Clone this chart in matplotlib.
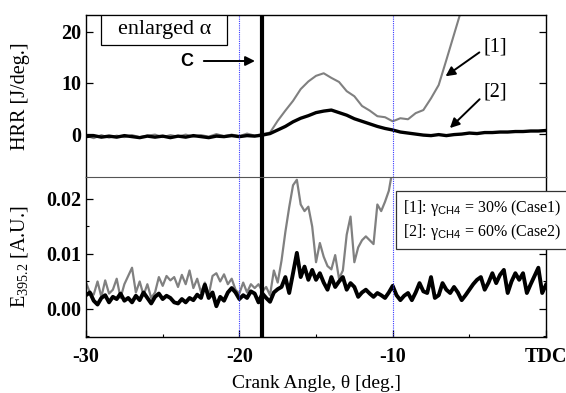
import numpy as np
import matplotlib
matplotlib.use('Agg')
import matplotlib.pyplot as plt
from matplotlib.patches import Rectangle
from matplotlib.ticker import MultipleLocator

plt.rcParams['font.family'] = ['Liberation Serif', 'DejaVu Serif']
plt.rcParams['mathtext.fontset'] = 'custom'
plt.rcParams['mathtext.rm'] = 'Liberation Serif'
plt.rcParams['mathtext.it'] = 'Liberation Serif:italic'
plt.rcParams['mathtext.sf'] = 'Liberation Sans'

# HRR, 0.5 deg steps from -30
hrr_case1 = [-0.3, -0.8, -0.2, -0.7, -0.3, -0.6, -0.2, -0.6, -0.3, -0.1, -0.6, -0.2,
             -0.5, -0.1, -0.5, -0.2, -0.5, 0.0, -0.4, -0.1, -0.4, 0.1, -0.3, 0.0,
             0.3, 2.6, 4.6, 6.5, 8.8, 10.3, 11.4, 11.9, 11.0, 10.2, 8.4, 7.4,
             5.5, 4.6, 3.5, 3.3, 2.5, 3.1, 2.9, 4.1, 4.7, 7.0, 9.6, 14.5, 19.5, 24.5, 30.0]
hrr_case2 = [-0.5, -0.3, -0.6, -0.4, -0.6, -0.3, -0.5, -0.7, -0.4, -0.6, -0.4, -0.7,
             -0.4, -0.6, -0.3, -0.5, -0.7, -0.4, -0.5, -0.3, -0.5, -0.3, -0.4, -0.2,
             0.1, 0.8, 1.5, 2.4, 3.1, 3.6, 4.2, 4.5, 4.7, 4.2, 3.7, 3.0, 2.5, 2.0,
             1.5, 1.1, 0.8, 0.4, 0.2, 0.0, -0.2, -0.3, -0.1, -0.3, -0.1, 0.0, 0.2,
             0.1, 0.3, 0.3, 0.4, 0.4, 0.5, 0.5, 0.6, 0.6, 0.7]

# E_395.2, 0.25 deg steps from -30
e_case1 = [0.0048, 0.0030, 0.0026, 0.0050, 0.0022, 0.0052, 0.0028, 0.0035, 0.0055, 0.0020,
           0.0045, 0.0060, 0.0075, 0.0030, 0.0050, 0.0025, 0.0045, 0.0020, 0.0030, 0.0058,
           0.0042, 0.0060, 0.0052, 0.0058, 0.0040, 0.0062, 0.0045, 0.0070, 0.0038, 0.0055,
           0.0030, 0.0048, 0.0025, 0.0060, 0.0065, 0.0050, 0.0063, 0.0045, 0.0055, 0.0035,
           0.0028, 0.0048, 0.0030, 0.0045, 0.0038, 0.0045, 0.0032,
           0.0040, 0.0025, 0.0070, 0.0048, 0.0088, 0.0140, 0.0185, 0.0225, 0.0235, 0.0190,
           0.0178, 0.0186, 0.0150, 0.0085, 0.0120, 0.0095, 0.0078, 0.0072, 0.0098, 0.0055,
           0.0070, 0.0135, 0.0168, 0.0085, 0.0112, 0.0125, 0.0132, 0.0125, 0.0118, 0.0190,
           0.0178, 0.0195, 0.0215, 0.0255, 0.0300]
e_case2 = [0.0025, 0.0030, 0.0015, 0.0008, 0.0020, 0.0025, 0.0012, 0.0022, 0.0018, 0.0028,
           0.0015, 0.0020, 0.0012, 0.0024, 0.0016, 0.0030, 0.0020, 0.0010, 0.0022, 0.0028,
           0.0018, 0.0024, 0.0020, 0.0012, 0.0010, 0.0018, 0.0012, 0.0020, 0.0016, 0.0026,
           0.0020, 0.0044, 0.0020, 0.0030, 0.0005, 0.0022, 0.0015, 0.0030, 0.0038, 0.0030,
           0.0018, 0.0025, 0.0020, 0.0032, 0.0028, 0.0012, 0.0028, 0.0020, 0.0013, 0.0030,
           0.0036, 0.0040, 0.0058, 0.0029, 0.0065, 0.0102, 0.0058, 0.0077, 0.0053, 0.0071,
           0.0053, 0.0065, 0.0048, 0.0035, 0.0058, 0.0040, 0.0050, 0.0058, 0.0035, 0.0047,
           0.0040, 0.0022, 0.0030, 0.0035, 0.0028, 0.0022, 0.0029, 0.0025, 0.0020, 0.0030,
           0.0042, 0.0025, 0.0016, 0.0024, 0.0029, 0.0016, 0.0030, 0.0047, 0.0032, 0.0029,
           0.0058, 0.0020, 0.0025, 0.0047, 0.0035, 0.0029, 0.0040, 0.0030, 0.0016, 0.0025,
           0.0035, 0.0045, 0.0053, 0.0058, 0.0035, 0.0048, 0.0065, 0.0047, 0.0062, 0.0071,
           0.0029, 0.0050, 0.0065, 0.0053, 0.0065, 0.0029, 0.0045, 0.0060, 0.0075, 0.0029,
           0.0044]

x_ticks = [-30, -20, -10, 0]
x_ticklabels = ['-30', '-20', '-10', 'TDC']
theta_c = -18.5
blue_marks = [-20, -10]


def angles(vals, step):
    return -30 + step * np.arange(len(vals))


fig = plt.figure(figsize=(5.66, 3.93), dpi=100)
ax1 = fig.add_axes([0.152, 0.5496, 0.8127, 0.4122])
ax2 = fig.add_axes([0.152, 0.1425, 0.8127, 0.4071])

ax1.plot(angles(hrr_case1, 0.5), hrr_case1, color='#808080', lw=1.5)
ax1.plot(angles(hrr_case2, 0.5), hrr_case2, color='k', lw=2.4)
ax2.plot(angles(e_case1, 0.25), e_case1, color='#808080', lw=1.6)
ax2.plot(angles(e_case2, 0.25), e_case2, color='k', lw=2.8)

for ax in (ax1, ax2):
    for xb in blue_marks:
        ax.axvline(xb, color='#3a3aff', lw=0.8, ls=(0, (1, 1)))
    ax.axvline(theta_c, color='k', lw=3.0)
    ax.set_xlim(-30, 0)
    ax.tick_params(which='both', direction='in', right=True, labelsize=14.5)
    ax.tick_params(which='major', length=5, width=0.9)
    ax.tick_params(which='minor', length=2.5, width=0.8)
    for sp in ax.spines.values():
        sp.set_linewidth(1.0)

ax1.set_ylim(-8.4, 23.3)
ax1.set_yticks([0, 10, 20])
ax1.set_yticklabels(['0', '10', '20'], fontweight='bold')
ax1.set_xticks([])
ax1.spines['bottom'].set_visible(False)
ax1.set_ylabel('HRR [J/deg.]', fontsize=14.5)
ax1.yaxis.set_label_coords(-0.121, 0.5)

ax2.set_ylim(-0.0051, 0.024)
ax2.set_yticks([0.0, 0.01, 0.02])
ax2.set_yticklabels(['0.00', '0.01', '0.02'], fontweight='bold')
ax2.yaxis.set_minor_locator(MultipleLocator(0.005))
ax2.set_xticks(x_ticks)
ax2.set_xticklabels(x_ticklabels, fontweight='bold')
ax2.xaxis.set_minor_locator(MultipleLocator(5))
ax2.spines['top'].set_color('#555555')
ax2.spines['top'].set_linewidth(0.8)
ax2.set_ylabel('E$_{\\mathrm{395.2}}$ [A.U.]', fontsize=14.5)
ax2.yaxis.set_label_coords(-0.121, 0.5)
ax2.set_xlabel('Crank Angle, θ [deg.]', fontsize=14, labelpad=6)
ax2.tick_params(axis='x', pad=7)

ax1.add_patch(Rectangle((-29.0, 17.45), 8.2, 5.85, fc='white', ec='k', lw=0.9, zorder=3))
ax1.text(-24.9, 20.4, 'enlarged α', fontsize=16, ha='center', va='center', zorder=4)
ax1.annotate('', xy=(-18.8, 14.3), xytext=(-22.5, 14.3),
             arrowprops=dict(arrowstyle='-|>', color='k', lw=1.4, mutation_scale=14))
ax1.text(-23.4, 14.2, 'C', fontsize=13, fontweight='bold', family='Liberation Sans',
         ha='center', va='center')
ax1.annotate('', xy=(-6.7, 11.0), xytext=(-4.2, 16.3),
             arrowprops=dict(arrowstyle='-|>', color='k', lw=1.4, mutation_scale=14))
ax1.annotate('', xy=(-6.4, 0.8), xytext=(-4.2, 7.2),
             arrowprops=dict(arrowstyle='-|>', color='k', lw=1.4, mutation_scale=14))
ax1.text(-3.3, 17.0, '[1]', fontsize=14.5, ha='center', va='center')
ax1.text(-3.3, 8.3, '[2]', fontsize=14.5, ha='center', va='center')

fig.text(0.712, 0.44, '[1]: γ$_{\\mathsf{CH4}}$ = 30% (Case1)\n[2]: γ$_{\\mathsf{CH4}}$ = 60% (Case2)',
         fontsize=11.5, ha='left', va='center', linespacing=1.3,
         bbox=dict(boxstyle='square,pad=0.45', fc='white', ec='#333333', lw=0.9))

fig.savefig('out.png', dpi=100)
